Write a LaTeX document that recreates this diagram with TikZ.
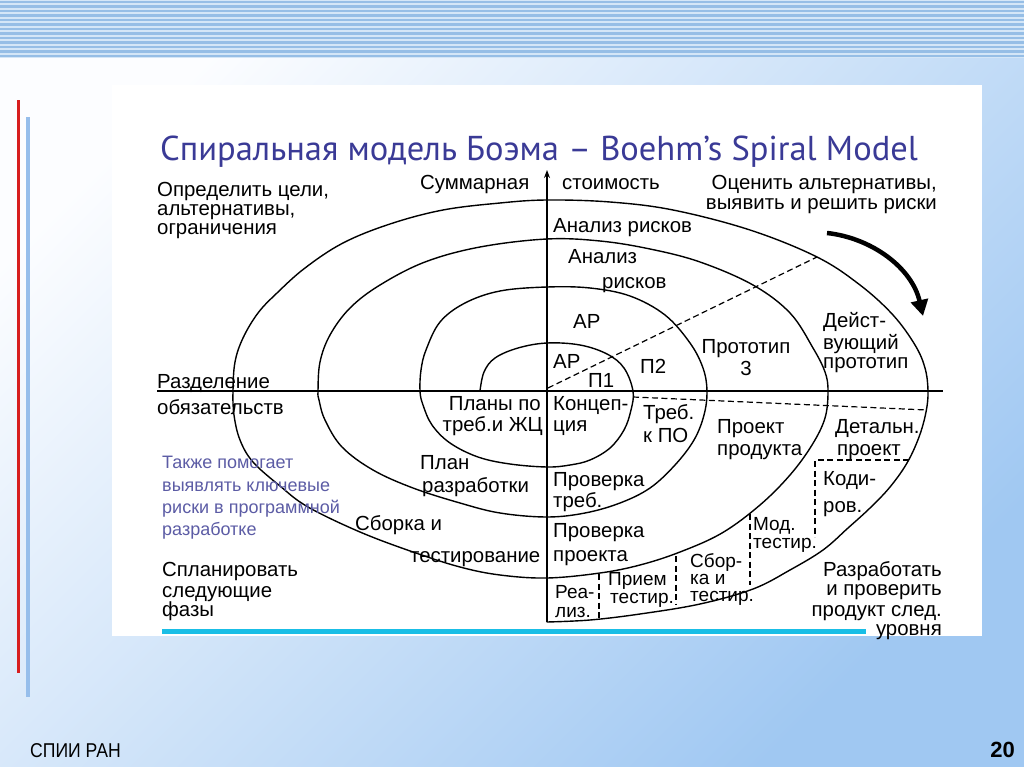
\documentclass[tikz,border=0pt]{standalone}
\usepackage{fontspec}
\setmainfont{Liberation Sans}
\newfontfamily\titlefont{PT Sans}
\usetikzlibrary{arrows.meta}
\definecolor{titleblue}{RGB}{58,58,150}
\definecolor{noteblue}{RGB}{92,92,165}
\definecolor{stripeA}{RGB}{150,190,230}
\definecolor{stripeB}{RGB}{212,230,247}
\definecolor{bgA}{RGB}{252,253,255}
\definecolor{bgB}{RGB}{160,200,242}
\definecolor{cyanline}{RGB}{25,190,230}
\definecolor{redbar}{RGB}{215,30,30}
\definecolor{bluebar}{RGB}{150,190,235}
\begin{document}
\begin{tikzpicture}[x=1pt,y=-1pt,
  curve/.style={line width=1.4pt, line join=round, line cap=round},
  axisline/.style={line width=1.3pt},
  dsh/.style={line width=1.2pt, dash pattern=on 6pt off 3.5pt},
  lbl/.style={font=\fontsize{20.4}{20}\selectfont, inner sep=0pt},
  lw/.style={lbl, anchor=base west},
  le/.style={lbl, anchor=base east},
  lc/.style={lbl, anchor=base},
  sw/.style={font=\fontsize{19}{19}\selectfont, inner sep=0pt, anchor=base west},
  note/.style={font=\fontsize{18}{18}\selectfont, inner sep=0pt, anchor=base west, text=noteblue}]
\useasboundingbox (0,0) rectangle (1024,767);
% background
\shade[top color=bgA, bottom color=bgB, shading angle=45] (0,0) rectangle (1024,767);
\fill[stripeB] (0,0) rectangle (1024,58);
\foreach \k in {0,...,12} \fill[stripeA] (0,{1+4.5*\k}) rectangle (1024,{3.2+4.5*\k});
\fill[white] (112,85) rectangle (982,636);
\fill[redbar] (16.5,100) rectangle (19.5,673);
\fill[bluebar] (25.5,117) rectangle (29.5,697);
\fill[cyanline] (162,628.5) rectangle (866,633.5);
% title
\node[inner sep=0pt, anchor=base west, text=titleblue, font=\titlefont\fontsize{34.5}{34.5}\selectfont] (title) at (160,161) {Спиральная модель Боэма – Boehm’s Spiral Model};
% axes
\coordinate (O) at (547,391);
\coordinate (ytop) at (547,170);
\coordinate (ybot) at (547,622);
\coordinate (xl) at (157,391);
\coordinate (xr) at (943,391);
\draw[axisline] (xl) -- (xr);
\draw[axisline,-{Stealth[length=8pt,width=6pt]}] (ybot) -- (ytop);
% spiral
\draw[curve] plot[smooth, tension=0.6] coordinates {
 (480,391) (484,372) (495,358) (518,348) (547,343) (580,345) (607,354) (624,368) (633,391)
 (631,410) (624,430) (610,448) (590,460) (570,465) (547,467) (510,464) (478,457) (450,443) (432,425) (423,405) (420,391)
 (421,370) (426,350) (440,322) (465,303) (500,291) (547,287) (590,288) (630,296) (665,315) (690,343) (703,368) (707,391)
 (704,415) (694,440) (675,465) (650,488) (620,503) (585,513) (547,517) (500,513) (460,503) (413,488) (373,470) (342,447) (325,420) (319,400) (318,391)
 (320,362) (330,335) (350,308) (380,285) (425,262) (480,247) (547,239) (600,241) (650,249) (700,262) (753,285) (790,313) (813,348) (825,372) (828,391)
 (825,418) (812,445) (790,475) (760,505) (722,533) (680,552) (640,565) (600,573) (547,578) (500,575) (460,567) (413,552) (360,532) (308,507) (280,486) (253,462) (240,440) (234,415) (233,391)
 (235,362) (243,338) (258,313) (277,293) (305,268) (343,243) (390,224) (443,210) (500,203) (547,200) (610,202) (673,210) (750,230) (817,257) (860,285) (893,315) (915,345) (925,368) (928,391)
 (926,412) (919,437) (907,463) (890,487) (870,508) (848,528) (823,550) (790,570) (753,589) (700,604) (640,614) (590,620) (547,622)};
% dashed lines
\coordinate (d1a) at (548,388); \coordinate (d1b) at (817,257);
\coordinate (d2a) at (633,397); \coordinate (d2b) at (927,410);
\coordinate (k1) at (909,460); \coordinate (k2) at (815,460); \coordinate (k3) at (815,537);
\coordinate (m1) at (750,514); \coordinate (m2) at (750,585);
\coordinate (s1) at (676,556); \coordinate (s2) at (676,604);
\coordinate (p1) at (599,574); \coordinate (p2) at (599,619);
\draw[dsh] (d1a) -- (d1b);
\draw[dsh] (d2a) -- (d2b);
\draw[dsh] (k1) -- (k2) -- (k3);
\draw[dsh] (m1) -- (m2);
\draw[dsh] (s1) -- (s2);
\draw[dsh] (p1) -- (p2);
% big arrow
\coordinate (ar1) at (827,233); \coordinate (ar2) at (923,316);
\draw[line width=4.5pt, -{Triangle[length=16pt,width=17pt]}] (ar1) .. controls (872,238) and (912,268) .. (ar2);
% labels
\node[lw] (a1) at (157,197) {Определить цели,};
\node[lw] (a2) at (157,216) {альтернативы,};
\node[lw] (a3) at (157,235) {ограничения};
\node[lw] (b1) at (420,190) {Суммарная};
\node[lw] (b2) at (562,190) {стоимость};
\node[le] (c1) at (937,190) {Оценить альтернативы,};
\node[le] (c2) at (937,210) {выявить и решить риски};
\node[lw] (r1) at (553,233) {Анализ рисков};
\node[lw] (r2) at (568,263) {Анализ};
\node[lw] (r3) at (602,288) {рисков};
\node[lw] (ap1) at (573,328) {АР};
\node[lw] (ap2) at (553,368) {АР};
\node[lw] (pp1) at (588,387) {П1};
\node[lw] (pp2) at (640,373) {П2};
\node[lc] (pr1) at (746,353) {Прототип};
\node[lc] (pr2) at (746,375) {3};
\node[lw] (dp1) at (823,327) {Дейст-};
\node[lw] (dp2) at (823,349) {вующий};
\node[lw] (dp3) at (823,368) {прототип};
\node[lw] (e1) at (157,388) {Разделение};
\node[lw] (e2) at (157,414) {обязательств};
\node[le] (f1) at (541,410) {Планы по};
\node[le] (f2) at (543,431) {треб.и ЖЦ};
\node[lw] (g1) at (553,410) {Концеп-};
\node[lw] (g2) at (553,431) {ция};
\node[lw] (h1) at (643,419) {Треб.};
\node[lw] (h2) at (643,442) {к ПО};
\node[lw] (i1) at (717,433) {Проект};
\node[lw] (i2) at (717,455) {продукта};
\node[lw] (j1) at (835,433) {Детальн.};
\node[lw] (j2) at (837,455) {проект};
\node[lw] (kk1) at (823,485) {Коди-};
\node[lw] (kk2) at (823,512) {ров.};
\node[lw] (l1) at (420,469) {План};
\node[lw] (l2) at (422,492) {разработки};
\node[lw] (n1) at (553,486) {Проверка};
\node[lw] (n2) at (553,507) {треб.};
\node[lw] (o1) at (553,537) {Проверка};
\node[lw] (o2) at (553,561) {проекта};
\node[lw] (q1) at (355,530) {Сборка и};
\node[lw] (q2) at (410,562) {тестирование};
\node[sw] (mt1) at (753,530) {Мод.};
\node[sw] (mt2) at (753,548) {тестир.};
\node[sw] (sb1) at (690,567) {Сбор-};
\node[sw] (sb2) at (690,584) {ка и};
\node[sw] (sb3) at (690,601) {тестир.};
\node[sw] (pt1) at (608,585) {Прием};
\node[sw] (pt2) at (610,603) {тестир.};
\node[sw] (rl1) at (555,598) {Реа-};
\node[sw] (rl2) at (555,617) {лиз.};
\node[le] (u1) at (942,576) {Разработать};
\node[le] (u2) at (942,595) {и проверить};
\node[le] (u3) at (942,616) {продукт след.};
\node[le] (u4) at (942,635) {уровня};
\node[lw] (v1) at (162,576) {Спланировать};
\node[lw] (v2) at (162,597) {следующие};
\node[lw] (v3) at (162,616) {фазы};
\node[note] (w1) at (162,468) {Также помогает};
\node[note] (w2) at (162,491) {выявлять ключевые};
\node[note] (w3) at (162,513) {риски в программной};
\node[note] (w4) at (162,535) {разработке};
% footer
\node[inner sep=0pt, anchor=base west, font=\fontsize{20}{20}\selectfont] (ft1) at (30,757) {\scalebox{0.88}[1]{СПИИ РАН}};
\node[inner sep=0pt, anchor=base east, font=\bfseries\fontsize{22}{22}\selectfont] (ft2) at (1015,757) {20};
\end{tikzpicture}
\end{document}
